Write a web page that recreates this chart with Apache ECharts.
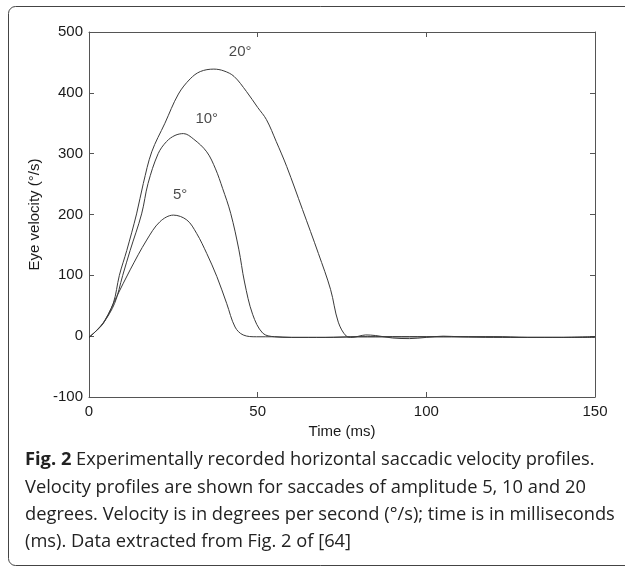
<!DOCTYPE html>
<html><head><meta charset="utf-8">
<script src="https://cdn.jsdelivr.net/npm/echarts@6/dist/echarts.min.js"></script>
<style>html,body{margin:0;padding:0;background:#fff}#c{width:625px;height:567px}</style>
</head><body><div id="c"></div>
<script>
// --- data ---
const t5  = [0, 2, 4.7, 8.2, 12.2, 17.1, 21, 25, 29, 31.9, 34.9, 37.9, 40.8, 43.3, 45.7, 49.7, 55, 60, 70, 80, 90, 100, 110, 120, 130, 140, 150];
const v5  = [-2, 8, 26, 65, 109, 158, 188, 199, 191, 169, 136, 98, 54, 15, 2, -1, -1, -2, -2, -1, -1, -1, -1, -1, -2, -2, -2];
const t10 = [0, 2, 4.2, 7.6, 10, 12.2, 15.6, 17.5, 20.5, 23, 25.5, 28, 31, 34.9, 37.5, 39.6, 42, 44.4, 46.1, 48.5, 51.5, 55, 60, 70, 80, 90, 100, 110, 120, 130, 140, 150];
const v10 = [-2, 8, 21, 54, 100, 141, 201, 251, 300, 320, 330, 333, 324, 303, 275, 243, 202, 143, 89, 36, 5, -1, -2, -2, -1, -1, -1, -1, -1, -2, -2, -1];
const t20 = [0, 2, 4.2, 7.2, 9, 11.2, 14.1, 16.1, 18.6, 22.5, 26.5, 30, 33, 37, 40, 43, 46.7, 50, 52.6, 55.5, 58.6, 63.3, 68, 71.6, 73.9, 76.3, 78, 80, 82, 85, 90, 95, 100, 105, 110, 120, 130, 140, 150];
const v20 = [-2, 8, 21, 54, 100, 141, 201, 251, 303, 350, 398, 423, 435, 439, 436, 427, 402, 376, 356, 320, 279, 208, 136, 77, 23, 0, -2, 0, 2, 1, -3, -4, -2, 0, -1, -2, -2, -2, -1];
const labelT = [27, 34.9, 44.8];
const labelV = [232, 358, 467];
const labelText = ['5°', '10°', '20°'];
const xTicks = [0, 50, 100, 150];
const yTicks = [-100, 0, 100, 200, 300, 400, 500];
const captionLines = [
  ['Fig. 2', ' Experimentally recorded horizontal saccadic velocity profiles.'],
  ['', 'Velocity profiles are shown for saccades of amplitude 5, 10 and 20'],
  ['', 'degrees. Velocity is in degrees per second (°/s); time is in milliseconds'],
  ['', '(ms). Data extracted from Fig. 2 of [64]']
];

const zip = (a, b) => a.map((x, i) => [x, b[i]]);
const axisCol = '#555';
const lineCol = '#3a3a3a';
const tickFont = {fontFamily: 'Liberation Sans, Arial', fontSize: 15, color: '#1a1a1a'};

const chart = echarts.init(document.getElementById('c'), null, {renderer: 'canvas'});
const xBase = {type: 'value', min: xTicks[0], max: xTicks[xTicks.length - 1], interval: 50,
  splitLine: {show: false}, axisLine: {show: true, onZero: false, lineStyle: {color: axisCol, width: 1}},
  axisTick: {show: true, inside: true, length: 5, lineStyle: {color: axisCol}}};
const yBase = {type: 'value', min: yTicks[0], max: yTicks[yTicks.length - 1], interval: 100,
  splitLine: {show: false}, axisLine: {show: true, onZero: false, lineStyle: {color: axisCol, width: 1}},
  axisTick: {show: true, inside: true, length: 5, lineStyle: {color: axisCol}}};

const series = [[t5, v5], [t10, v10], [t20, v20]].map(([t, v], i) => ({
  type: 'line', data: zip(t, v), showSymbol: false, smooth: 0.35,
  lineStyle: {color: lineCol, width: 1}, silent: true, z: 3
}));
series.push({
  type: 'scatter', data: zip(labelT, labelV).map((p, i) => ({value: p, name: labelText[i]})),
  symbolSize: 0, silent: true,
  label: {show: true, position: 'inside', formatter: p => p.name, ...tickFont}
});

const graphics = [{
  type: 'rect', shape: {x: 8.5, y: 6.5, width: 640, height: 559, r: 7},
  style: {fill: 'none', stroke: '#444', lineWidth: 1}, silent: true
}];
captionLines.forEach((ln, i) => {
  graphics.push({
    type: 'text', left: 25, top: 451 + i * 27.3,
    style: {
      text: (ln[0] ? '{b|' + ln[0] + '}' : '') + '{n|' + ln[1] + '}',
      rich: {
        b: {fontFamily: 'Open Sans', fontWeight: 'bold', fontSize: 18.3, fill: '#222'},
        n: {fontFamily: 'Open Sans', fontSize: 18.3, fill: '#222'}
      }
    }, silent: true
  });
});

chart.setOption({
  animation: false,
  backgroundColor: '#fff',
  grid: {left: 89, right: 30, top: 32, bottom: 170, show: false},
  xAxis: [
    {...xBase, position: 'bottom', name: 'Time (ms)', nameLocation: 'middle', nameGap: 19,
      nameTextStyle: tickFont, axisLabel: {...tickFont, margin: 7}},
    {...xBase, position: 'top', axisLabel: {show: false}}
  ],
  yAxis: [
    {...yBase, position: 'left', name: 'Eye velocity (°/s)', nameLocation: 'middle', nameGap: 41,
      nameTextStyle: tickFont, axisLabel: {...tickFont, margin: 6}},
    {...yBase, position: 'right', axisLabel: {show: false}}
  ],
  series: series,
  graphic: graphics
});
</script></body></html>
